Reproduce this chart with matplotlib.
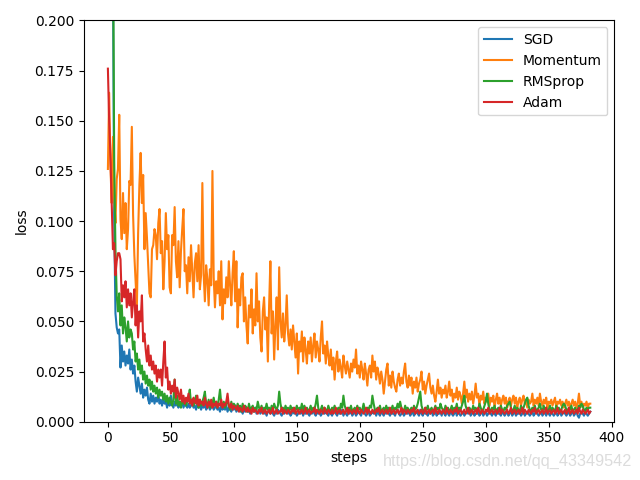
import numpy as np
import matplotlib
matplotlib.use('Agg')
import matplotlib.pyplot as plt

# loss values, in units of 1e-3, one per step
sgd = [600,480,390,300,230,100,54,47,44,46,27,38,30,35,28,33,
       29,36,26,31,24,28,20,15,22,18,14,19,12,16,13,17,
       11,9,14,10,13,9,12,10,14,9,11,8,12,9,10,7,
       11,8,13,9,7,10,8,11,7,9,8,10,7,9,8,7,
       9,7,8,10,7,8,6,9,7,8,6,8,7,9,6,7,
       8,6,7,9,6,7,8,6,7,5,8,6,7,6,8,5,
       7,6,5,7,6,8,5,6,7,5,6,4,6,5,7,5,
       6,4,5,6,5,7,4,5,6,4,5,6,4,5,3,5,
       5,4,6,4,3,5,4,6,5,4,3,5,4,5,6,4,
       5,3,4,6,4,5,3,4,5,4,6,3,5,4,5,4,
       3,5,4,6,4,3,5,4,5,3,4,6,4,5,4,3,
       5,4,3,5,6,4,3,5,4,4,6,3,5,4,3,5,
       4,6,3,4,5,3,4,5,4,3,5,6,4,3,4,5,
       3,4,5,4,6,3,5,4,3,5,4,3,5,4,6,4,
       3,5,4,4,3,5,6,4,3,4,5,3,4,6,4,5,
       3,4,5,3,4,5,4,3,6,4,3,5,4,4,3,5,
       4,6,3,4,5,3,4,4,5,3,6,4,3,5,4,3,
       5,4,3,4,6,3,5,4,3,4,5,3,4,5,4,6,
       3,4,5,3,4,4,5,3,4,6,3,4,5,3,4,5,
       4,3,5,4,3,6,4,4,3,5,4,3,4,5,3,4,
       6,3,4,5,3,4,4,5,3,4,6,3,4,5,4,3,
       4,5,3,4,6,4,3,4,5,3,4,5,3,6,4,3,
       5,4,3,4,5,3,4,6,3,4,5,4,3,4,5,3,
       4,6,3,4,5,3,2,4,5,4,3,5,4,3,4,5]

momentum = [126,164,128,109,142,112,99,121,126,153,101,91,114,94,109,86,
            96,120,118,147,103,83,70,57,94,118,134,109,123,86,104,92,
            78,64,62,86,88,96,93,81,99,106,84,90,66,80,104,86,
            93,67,64,93,88,107,80,72,90,67,85,96,106,75,78,64,
            82,70,88,75,62,79,84,70,88,66,73,119,74,60,78,71,
            58,76,68,125,72,57,70,64,75,58,80,51,66,59,72,62,
            80,68,58,74,85,60,80,47,66,58,72,74,50,62,48,39,
            58,52,66,44,56,48,74,50,60,42,35,55,62,46,52,30,
            58,80,44,55,31,48,62,36,77,50,42,54,40,48,63,44,
            38,46,36,48,40,32,44,24,40,35,45,30,42,36,29,40,
            34,42,30,38,44,32,40,36,30,42,50,34,38,29,40,33,
            28,36,26,32,21,30,35,25,31,27,22,33,28,24,30,26,
            22,29,25,31,27,36,24,28,22,30,26,21,29,24,18,26,
            28,22,33,25,30,21,27,24,19,25,21,14,20,26,29,18,
            23,17,25,20,17,15,21,24,18,22,19,25,29,20,17,23,
            18,22,14,20,17,22,15,19,21,25,16,20,14,18,21,24,
            17,14,18,13,10,15,21,14,17,12,16,14,18,12,15,20,
            13,16,10,14,12,17,11,15,13,9,14,20,12,16,10,14,
            11,15,9,13,19,12,14,8,13,11,15,9,12,10,14,8,
            12,10,13,7,11,14,9,12,8,11,13,9,12,7,10,12,
            8,11,13,9,12,7,10,12,8,11,13,9,10,7,11,9,
            10,14,8,11,9,12,8,14,10,8,11,9,12,7,10,9,
            11,8,10,12,7,10,9,11,8,10,7,9,11,8,10,7,
            9,11,8,10,7,9,14,8,10,7,9,8,10,7,9,9]

rmsprop = [800,600,450,340,250,130,86,63,55,64,48,58,44,52,47,40,
           50,42,46,44,36,40,30,34,26,31,24,28,21,25,19,23,
           18,21,16,20,15,18,14,17,12,16,13,15,11,14,10,13,
           9,12,10,8,11,21,9,13,8,10,7,12,9,11,8,10,
           12,16,9,11,8,10,13,9,7,11,8,10,12,15,9,8,
           11,7,10,9,12,8,10,7,11,16,9,8,10,7,9,11,
           8,6,10,7,9,8,6,9,7,8,5,9,6,8,7,5,
           9,6,7,8,5,7,6,10,7,6,8,5,7,6,9,6,
           7,5,8,6,9,7,6,8,15,9,6,7,5,8,6,7,
           5,8,6,7,5,6,8,5,7,6,9,5,8,6,7,5,
           6,8,5,7,6,9,13,7,5,6,8,5,7,6,5,8,
           6,5,7,6,8,5,6,7,5,9,7,13,8,6,5,7,
           6,8,5,6,7,5,8,6,7,5,6,9,6,5,7,6,
           8,7,13,9,6,5,7,6,8,5,6,7,5,8,6,7,
           5,6,8,5,7,6,9,7,10,7,6,5,8,6,7,5,
           6,7,5,8,6,7,9,12,15,8,6,5,7,6,8,5,
           6,7,5,6,8,6,7,5,9,7,6,5,8,6,7,5,
           6,8,5,7,6,9,5,7,6,8,10,13,8,6,5,7,
           6,5,8,6,7,5,6,9,7,5,6,8,10,14,9,6,
           5,7,6,8,5,6,7,5,8,6,5,7,6,8,9,10,
           7,5,6,8,5,7,6,5,8,6,7,9,11,12,8,6,
           5,7,6,8,5,6,7,9,6,5,8,6,7,5,6,8,
           5,7,6,5,8,6,7,5,6,8,9,8,6,5,7,6,
           8,5,6,7,5,6,8,7,9,8,6,5,7,6,7,7]

adam = [176,150,133,110,86,89,73,80,84,84,81,60,68,62,70,57,
        66,58,64,52,60,66,48,58,42,55,50,63,40,44,36,30,
        38,28,33,26,30,24,28,20,26,22,26,18,30,40,22,27,
        16,20,14,18,15,21,12,17,14,11,16,10,13,9,12,10,
        14,9,11,8,12,10,9,13,8,11,9,10,8,12,9,7,
        10,8,11,7,9,8,10,7,9,8,11,7,9,8,10,14,
        8,7,9,6,8,7,6,8,5,7,6,5,8,6,5,7,
        5,6,4,7,5,6,5,4,6,5,7,4,5,6,4,5,
        6,4,5,7,4,5,6,4,5,5,7,4,6,5,4,6,
        5,4,6,5,7,4,5,6,4,5,6,4,5,7,4,5,
        6,4,5,5,7,4,6,5,4,6,5,4,7,5,4,6,
        5,4,6,4,5,7,4,5,6,4,5,6,4,5,7,4,
        6,5,4,6,5,4,7,5,4,6,5,4,5,7,4,6,
        5,4,6,5,4,6,5,7,4,5,6,4,5,6,4,5,
        7,4,5,6,4,5,6,4,5,7,4,6,5,4,6,5,
        4,6,5,7,4,5,6,4,5,6,4,5,7,4,5,6,
        4,5,6,4,7,5,4,6,5,4,6,5,4,7,5,4,
        6,5,4,6,5,7,4,5,6,4,5,6,4,5,7,4,
        5,6,4,5,6,4,7,5,4,6,5,4,6,5,7,4,
        5,6,4,5,6,4,5,7,4,6,5,4,5,6,4,5,
        7,4,5,6,4,5,6,4,5,7,4,6,5,4,6,5,
        4,6,5,7,4,5,6,4,5,6,4,5,7,4,5,6,
        4,5,6,4,5,7,4,5,6,4,5,6,4,5,7,4,
        5,6,4,5,6,4,7,5,4,6,5,4,5,6,4,5]

labels = ['SGD', 'Momentum', 'RMSprop', 'Adam']
losses = [sgd, momentum, rmsprop, adam]

fig = plt.figure(figsize=(6.4, 4.8), dpi=100)
for lab, l in zip(labels, losses):
    l = np.array(l) / 1000.0
    plt.plot(np.arange(len(l)), l, label=lab)
plt.legend(loc='best')
plt.xlabel('steps')
plt.ylabel('loss')
plt.ylim((0, 0.2))
plt.tight_layout()
fig.text(0.988, 0.022, 'https://blog.csdn.net/qq_43349542', ha='right', va='bottom',
         color='#dcdcdc', fontsize=11.7, family='Liberation Sans')
plt.savefig('out.png')
